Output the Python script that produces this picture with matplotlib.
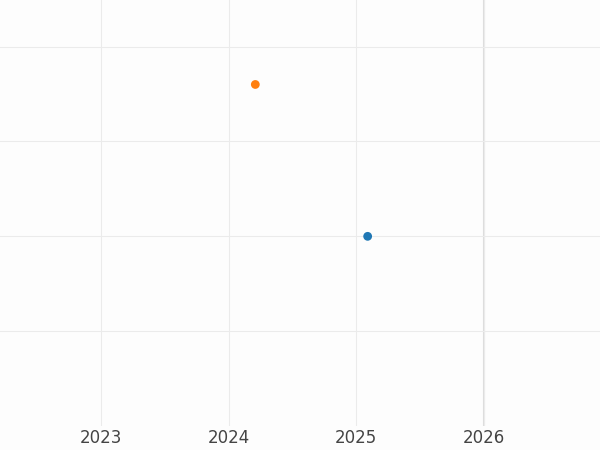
import matplotlib
matplotlib.use("Agg")
import matplotlib.pyplot as plt

series_x = [2025.09, 2024.21]
series_y = [2.0, 3.6]
colors = ["#1f77b4", "#ff7f0e"]
xticks = [2023, 2024, 2025, 2026]

fig = plt.figure(figsize=(6, 4.5), dpi=100)
fig.patch.set_facecolor("#fdfdfd")
ax = fig.add_axes([0, 0.053, 1, 0.947])
ax.set_facecolor("#fdfdfd")
for x, y, c in zip(series_x, series_y, colors):
    ax.scatter([x], [y], color=c, s=40, zorder=3, edgecolors="none")
ax.set_xlim(2022.21, 2026.91)
ax.set_ylim(0.0, 4.49)
ax.set_xticks(xticks)
ax.set_xticklabels([str(t) for t in xticks])
ax.set_yticks([1, 2, 3, 4])
ax.set_yticklabels([])
ax.grid(True, color="#ebebeb", linewidth=0.8)
ax.axvline(2026, color="#dddddd", linewidth=1.5, zorder=1)
ax.tick_params(length=0, labelsize=12, labelcolor="#444444", pad=2)
for s in ax.spines.values():
    s.set_visible(False)
fig.savefig("out.png", facecolor=fig.get_facecolor())
